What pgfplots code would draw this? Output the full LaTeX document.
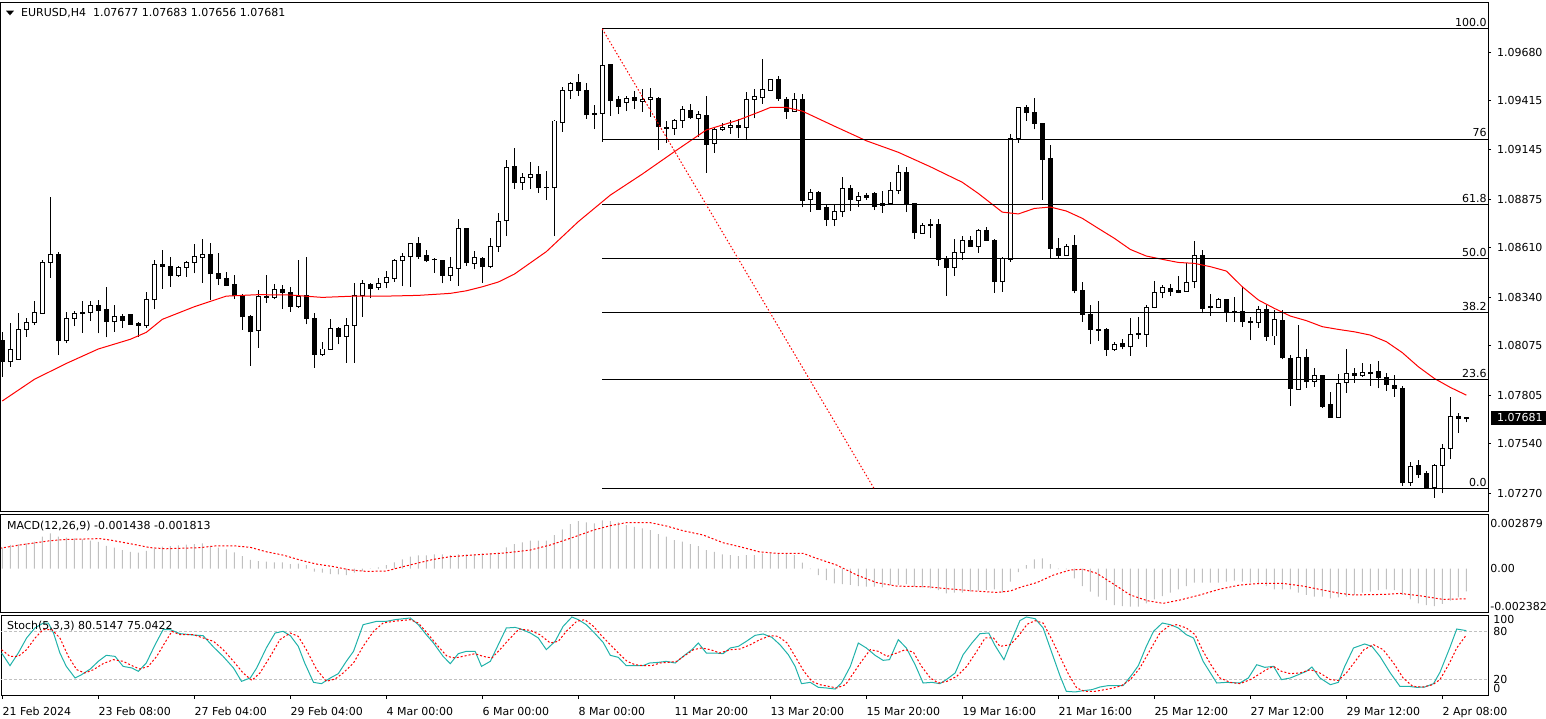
\documentclass[border=0pt]{standalone}
\usepackage{pgfplots}
\pgfplotsset{compat=1.18}
\usepackage{pgfplotstable}
\usepackage{fontspec}
\setmainfont{DejaVu Sans}
\definecolor{stochmain}{HTML}{20B2AA}
\definecolor{histgray}{HTML}{C0C0C0}
\definecolor{mtred}{HTML}{FF0000}

\pgfplotstableread{
x o h l c
0 1.08106 1.08151 1.07906 1.07988
1 1.07988 1.08201 1.07960 1.08055
2 1.08002 1.08252 1.07997 1.08164
3 1.08164 1.08228 1.08124 1.08202
4 1.08202 1.08319 1.08188 1.08257
5 1.08253 1.08543 1.08248 1.08530
6 1.08530 1.08889 1.08447 1.08574
7 1.08576 1.08585 1.08024 1.08102
8 1.08102 1.08261 1.08088 1.08224
9 1.08224 1.08264 1.08182 1.08252
10 1.08257 1.08319 1.08146 1.08250
11 1.08257 1.08319 1.08210 1.08297
12 1.08297 1.08325 1.08142 1.08266
13 1.08275 1.08397 1.08120 1.08206
14 1.08206 1.08297 1.08151 1.08232
15 1.08232 1.08248 1.08173 1.08212
16 1.08248 1.08248 1.08192 1.08192
17 1.08195 1.08204 1.08124 1.08186
18 1.08186 1.08366 1.08173 1.08325
19 1.08325 1.08543 1.08274 1.08519
20 1.08521 1.08598 1.08386 1.08509
21 1.08510 1.08561 1.08397 1.08461
22 1.08461 1.08512 1.08452 1.08503
23 1.08503 1.08539 1.08452 1.08532
24 1.08530 1.08631 1.08470 1.08565
25 1.08558 1.08658 1.08419 1.08576
26 1.08576 1.08634 1.08325 1.08467
27 1.08470 1.08583 1.08406 1.08441
28 1.08445 1.08476 1.08406 1.08406
29 1.08412 1.08461 1.08330 1.08348
30 1.08348 1.08355 1.08161 1.08233
31 1.08237 1.08243 1.07966 1.08151
32 1.08157 1.08379 1.08064 1.08346
33 1.08346 1.08461 1.08310 1.08341
34 1.08339 1.08410 1.08328 1.08383
35 1.08383 1.08406 1.08275 1.08368
36 1.08366 1.08397 1.08261 1.08290
37 1.08290 1.08543 1.08283 1.08346
38 1.08348 1.08560 1.08192 1.08223
39 1.08224 1.08252 1.07955 1.08028
40 1.08028 1.08095 1.08020 1.08057
41 1.08055 1.08221 1.08055 1.08170
42 1.08171 1.08179 1.08082 1.08126
43 1.08126 1.08224 1.07982 1.08188
44 1.08184 1.08416 1.07982 1.08348
45 1.08348 1.08434 1.08233 1.08416
46 1.08410 1.08416 1.08334 1.08386
47 1.08394 1.08443 1.08379 1.08416
48 1.08421 1.08483 1.08388 1.08447
49 1.08443 1.08547 1.08425 1.08538
50 1.08539 1.08583 1.08401 1.08565
51 1.08561 1.08634 1.08397 1.08634
52 1.08634 1.08671 1.08549 1.08561
53 1.08570 1.08598 1.08532 1.08539
54 1.08547 1.08556 1.08474 1.08545
55 1.08543 1.08543 1.08416 1.08461
56 1.08461 1.08561 1.08430 1.08501
57 1.08498 1.08767 1.08403 1.08716
58 1.08716 1.08720 1.08512 1.08529
59 1.08525 1.08592 1.08492 1.08558
60 1.08554 1.08561 1.08419 1.08507
61 1.08507 1.08665 1.08498 1.08616
62 1.08616 1.08798 1.08589 1.08753
63 1.08758 1.09090 1.08674 1.09050
64 1.09057 1.09157 1.08931 1.08966
65 1.08966 1.09017 1.08926 1.08995
66 1.08995 1.09077 1.08931 1.09008
67 1.09008 1.09057 1.08911 1.08938
68 1.08940 1.09030 1.08871 1.08938
69 1.08938 1.09308 1.08674 1.09303
70 1.09294 1.09487 1.09244 1.09472
71 1.09469 1.09518 1.09423 1.09509
72 1.09516 1.09560 1.09439 1.09472
73 1.09472 1.09509 1.09314 1.09336
74 1.09345 1.09390 1.09259 1.09339
75 1.09345 1.09806 1.09190 1.09609
76 1.09614 1.09614 1.09332 1.09414
77 1.09418 1.09439 1.09341 1.09381
78 1.09405 1.09439 1.09357 1.09427
79 1.09432 1.09467 1.09368 1.09414
80 1.09412 1.09478 1.09354 1.09423
81 1.09421 1.09485 1.09326 1.09432
82 1.09427 1.09432 1.09144 1.09272
83 1.09268 1.09303 1.09184 1.09263
84 1.09263 1.09314 1.09226 1.09305
85 1.09305 1.09385 1.09266 1.09367
86 1.09363 1.09396 1.09314 1.09321
87 1.09317 1.09357 1.09213 1.09339
88 1.09334 1.09439 1.09020 1.09175
89 1.09181 1.09263 1.09130 1.09257
90 1.09257 1.09290 1.09250 1.09270
91 1.09268 1.09308 1.09232 1.09279
92 1.09279 1.09312 1.09208 1.09266
93 1.09268 1.09459 1.09199 1.09421
94 1.09421 1.09478 1.09317 1.09436
95 1.09432 1.09640 1.09396 1.09476
96 1.09472 1.09530 1.09472 1.09530
97 1.09532 1.09549 1.09414 1.09425
98 1.09421 1.09432 1.09314 1.09354
99 1.09354 1.09454 1.09354 1.09418
100 1.09418 1.09450 1.08831 1.08871
101 1.08876 1.08931 1.08807 1.08913
102 1.08913 1.08920 1.08822 1.08822
103 1.08831 1.08849 1.08729 1.08767
104 1.08767 1.08849 1.08729 1.08811
105 1.08807 1.08997 1.08780 1.08935
106 1.08935 1.08953 1.08811 1.08876
107 1.08871 1.08913 1.08835 1.08889
108 1.08897 1.08907 1.08871 1.08884
109 1.08907 1.08913 1.08816 1.08835
110 1.08840 1.08922 1.08802 1.08853
111 1.08853 1.08969 1.08853 1.08924
112 1.08922 1.09062 1.08904 1.09022
113 1.09022 1.09053 1.08805 1.08853
114 1.08853 1.08853 1.08658 1.08692
115 1.08689 1.08743 1.08689 1.08733
116 1.08738 1.08767 1.08665 1.08731
117 1.08738 1.08767 1.08512 1.08547
118 1.08552 1.08565 1.08348 1.08501
119 1.08501 1.08658 1.08456 1.08583
120 1.08583 1.08674 1.08543 1.08652
121 1.08652 1.08674 1.08616 1.08616
122 1.08616 1.08713 1.08583 1.08703
123 1.08702 1.08722 1.08649 1.08652
124 1.08652 1.08658 1.08365 1.08425
125 1.08425 1.08561 1.08370 1.08549
126 1.08547 1.09232 1.08534 1.09208
127 1.09208 1.09377 1.09184 1.09377
128 1.09376 1.09390 1.09305 1.09350
129 1.09350 1.09427 1.09257 1.09290
130 1.09290 1.09290 1.08871 1.09093
131 1.09099 1.09172 1.08552 1.08607
132 1.08607 1.08662 1.08552 1.08567
133 1.08567 1.08629 1.08567 1.08616
134 1.08625 1.08678 1.08361 1.08376
135 1.08379 1.08421 1.08206 1.08246
136 1.08248 1.08297 1.08082 1.08164
137 1.08166 1.08319 1.08102 1.08157
138 1.08161 1.08170 1.08019 1.08055
139 1.08055 1.08097 1.08048 1.08079
140 1.08088 1.08110 1.08055 1.08069
141 1.08069 1.08224 1.08020 1.08137
142 1.08139 1.08230 1.08110 1.08137
143 1.08137 1.08297 1.08069 1.08284
144 1.08284 1.08428 1.08279 1.08366
145 1.08366 1.08406 1.08334 1.08394
146 1.08388 1.08412 1.08348 1.08370
147 1.08374 1.08456 1.08361 1.08366
148 1.08370 1.08529 1.08370 1.08421
149 1.08425 1.08647 1.08388 1.08567
150 1.08567 1.08598 1.08252 1.08279
151 1.08288 1.08357 1.08239 1.08284
152 1.08284 1.08334 1.08279 1.08328
153 1.08325 1.08330 1.08206 1.08257
154 1.08264 1.08343 1.08206 1.08257
155 1.08264 1.08397 1.08179 1.08206
156 1.08210 1.08230 1.08106 1.08202
157 1.08202 1.08292 1.08173 1.08275
158 1.08275 1.08297 1.08102 1.08124
159 1.08128 1.08270 1.08079 1.08219
160 1.08215 1.08270 1.08000 1.08009
161 1.08006 1.08024 1.07745 1.07842
162 1.07838 1.08188 1.07833 1.08011
163 1.08011 1.08057 1.07845 1.07878
164 1.07882 1.07951 1.07851 1.07911
165 1.07911 1.07915 1.07736 1.07745
166 1.07751 1.07820 1.07683 1.07683
167 1.07683 1.07920 1.07683 1.07869
168 1.07873 1.08057 1.07818 1.07924
169 1.07924 1.07951 1.07873 1.07911
170 1.07911 1.07982 1.07906 1.07929
171 1.07929 1.07975 1.07856 1.07924
172 1.07936 1.07991 1.07842 1.07900
173 1.07902 1.07924 1.07829 1.07864
174 1.07860 1.07915 1.07796 1.07842
175 1.07842 1.07855 1.07310 1.07326
176 1.07328 1.07437 1.07310 1.07417
177 1.07419 1.07450 1.07354 1.07372
178 1.07377 1.07390 1.07295 1.07295
179 1.07299 1.07428 1.07244 1.07423
180 1.07423 1.07537 1.07268 1.07514
181 1.07514 1.07792 1.07454 1.07687
182 1.07690 1.07705 1.07599 1.07678
183 1.07677 1.07683 1.07656 1.07681
}\candles

\pgfplotstableread{
x y
0 1.07773
4 1.07891
8 1.07978
12 1.08057
16 1.08110
18 1.08148
20 1.08219
24 1.08288
28 1.08346
32 1.08354
36 1.08352
40 1.08339
44 1.08346
48 1.08346
52 1.08350
56 1.08361
58 1.08375
60 1.08397
62 1.08423
64 1.08466
68 1.08589
72 1.08753
76 1.08898
80 1.09013
84 1.09135
88 1.09254
92 1.09308
95 1.09359
96 1.09377
98 1.09377
100 1.09357
104 1.09275
108 1.09195
112 1.09132
116 1.09053
120 1.08968
122 1.08907
125 1.08805
127 1.08795
129 1.08825
131 1.08833
133 1.08811
135 1.08771
137 1.08716
139 1.08662
141 1.08601
143 1.08565
145 1.08547
147 1.08530
149 1.08525
151 1.08507
153 1.08483
155 1.08397
157 1.08325
159 1.08279
161 1.08237
163 1.08212
165 1.08179
167 1.08164
169 1.08151
171 1.08133
173 1.08097
175 1.08037
177 1.07960
179 1.07896
181 1.07847
183 1.07805
}\mavals

\pgfplotstableread{
x y
0 0.00133
1 0.00150
2 0.00154
3 0.00160
4 0.00171
5 0.00202
6 0.00223
7 0.00202
8 0.00196
9 0.00192
10 0.00185
11 0.00177
12 0.00169
13 0.00145
14 0.00133
15 0.00118
16 0.00107
17 0.00101
18 0.00112
19 0.00129
20 0.00139
21 0.00143
22 0.00147
23 0.00152
24 0.00156
25 0.00160
26 0.00145
27 0.00133
28 0.00122
29 0.00103
30 0.00080
31 0.00055
32 0.00048
33 0.00044
34 0.00040
35 0.00040
36 0.00029
37 0.00032
38 0.00023
39 -0.00019
40 -0.00025
41 -0.00034
42 -0.00036
43 -0.00040
44 -0.00025
45 -0.00015
46 0.00002
47 0.00008
48 0.00023
49 0.00040
50 0.00059
51 0.00076
52 0.00084
53 0.00084
54 0.00091
55 0.00091
56 0.00086
57 0.00091
58 0.00091
59 0.00091
60 0.00097
61 0.00097
62 0.00101
63 0.00135
64 0.00156
65 0.00166
66 0.00177
67 0.00177
68 0.00177
69 0.00213
70 0.00249
71 0.00282
72 0.00301
73 0.00293
74 0.00287
75 0.00306
76 0.00301
77 0.00293
78 0.00276
79 0.00265
80 0.00255
81 0.00244
82 0.00219
83 0.00202
84 0.00181
85 0.00171
86 0.00156
87 0.00143
88 0.00118
89 0.00107
90 0.00091
91 0.00086
92 0.00080
93 0.00086
94 0.00086
95 0.00097
96 0.00097
97 0.00097
98 0.00093
99 0.00086
100 0.00038
101 -0.00002
102 -0.00040
103 -0.00072
104 -0.00093
105 -0.00097
106 -0.00103
107 -0.00110
108 -0.00114
109 -0.00114
110 -0.00118
111 -0.00103
112 -0.00103
113 -0.00097
114 -0.00114
115 -0.00118
116 -0.00124
117 -0.00135
118 -0.00156
119 -0.00152
120 -0.00152
121 -0.00145
122 -0.00139
123 -0.00135
124 -0.00131
125 -0.00152
126 -0.00082
127 -0.00021
128 0.00023
129 0.00059
130 0.00065
131 0.00029
132 -0.00002
133 -0.00004
134 -0.00061
135 -0.00110
136 -0.00145
137 -0.00177
138 -0.00198
139 -0.00230
140 -0.00236
141 -0.00240
142 -0.00240
143 -0.00219
144 -0.00194
145 -0.00173
146 -0.00152
147 -0.00131
148 -0.00110
149 -0.00088
150 -0.00088
151 -0.00088
152 -0.00088
153 -0.00082
154 -0.00076
155 -0.00082
156 -0.00088
157 -0.00097
158 -0.00110
159 -0.00131
160 -0.00131
161 -0.00131
162 -0.00152
163 -0.00166
164 -0.00177
165 -0.00177
166 -0.00188
167 -0.00181
168 -0.00177
169 -0.00166
170 -0.00152
171 -0.00145
172 -0.00135
173 -0.00131
174 -0.00135
175 -0.00166
176 -0.00194
177 -0.00219
178 -0.00230
179 -0.00236
180 -0.00223
181 -0.00202
182 -0.00181
183 -0.00144
}\macdhist

\pgfplotstableread{
x y
-0.3 0.00129
2.2 0.00150
6 0.00177
8 0.00185
12.2 0.00190
13.5 0.00181
16.4 0.00154
18.5 0.00133
20.5 0.00126
24.7 0.00133
26.8 0.00145
28.9 0.00145
31 0.00135
33 0.00107
35.1 0.00086
37.2 0.00055
39.3 0.00029
41.4 0.00013
43.5 -0.00008
45.5 -0.00017
48 -0.00015
49.7 0.00008
51.8 0.00034
53.9 0.00059
56 0.00076
60.1 0.00091
62.2 0.00097
64 0.00106
66 0.00118
68.5 0.00150
71 0.00192
73.9 0.00244
76 0.00272
78 0.00291
81 0.00291
83 0.00270
85.1 0.00240
87.6 0.00213
90.1 0.00164
92.5 0.00135
94.6 0.00107
96.8 0.00097
100.1 0.00097
101.8 0.00065
104.3 0.00023
106.8 -0.00040
109.3 -0.00088
111.8 -0.00110
115.6 -0.00114
117.6 -0.00124
121 -0.00139
124.3 -0.00150
126 -0.00141
127.4 -0.00115
129.3 -0.00088
131.4 -0.00040
133.5 -0.00008
135.1 -0.00004
136.8 -0.00029
138.9 -0.00097
141 -0.00166
143.1 -0.00202
145.1 -0.00219
147.2 -0.00198
149.7 -0.00166
152.2 -0.00129
154.7 -0.00103
157.2 -0.00093
160.1 -0.00093
162.6 -0.00110
164.7 -0.00131
167.2 -0.00156
168.9 -0.00166
173 -0.00162
174.7 -0.00156
177.2 -0.00171
180.1 -0.00194
183 -0.00190
}\macdsig

\pgfplotstableread{
x y
-0.08 52.5
0.96 36.7
2.0 52.5
3.04 71.3
4.08 83.8
5.13 90.0
5.75 90.0
6.4 77.5
7.2 52.5
8.0 35.8
9.1 21.3
9.9 25.4
11.0 32.5
12.0 42.1
13.0 49.6
14.1 48.3
15.1 35.8
16.2 33.8
17.0 29.6
18.0 40.0
19.1 62.9
20.1 81.7
21.0 81.7
22.2 76.7
23.9 75.0
25.1 74.2
26.4 60.0
27.6 48.3
28.9 33.8
29.9 17.1
31.0 21.3
31.8 33.8
33.0 58.8
34.1 77.5
35.1 79.6
36.0 74.2
37.0 60.8
37.8 40.0
38.9 15.8
39.9 14.2
41.0 21.3
42.0 26.7
43.0 42.1
43.9 54.6
45.1 87.9
46.8 92.1
48.0 92.1
49.1 94.2
51.0 96.3
52.0 87.9
53.0 75.4
53.9 65.0
55.1 48.3
56.0 39.2
57.0 51.7
58.0 54.6
59.1 54.6
59.9 35.8
61.0 42.1
62.0 62.9
63.0 83.8
64.1 84.5
64.7 82.9
66.0 77.5
67.0 71.3
68.0 56.7
69.1 67.1
70.1 85.8
71.2 97.5
72.0 94.2
73.0 87.9
74.1 76.7
75.1 65.8
76.0 49.6
77.0 47.1
78.0 36.7
79.0 36.7
80.1 36.7
80.9 40.0
82.0 40.8
83.0 42.1
84.1 40.0
85.1 48.3
86.2 56.7
87.0 65.0
88.0 52.5
89.1 52.5
90.1 51.7
91.0 58.8
92.0 60.8
93.0 67.1
94.1 74.6
95.1 76.3
96.2 72.1
97.2 62.9
98.25 50.4
99.1 35.8
99.9 14.2
101.0 15.8
102.0 9.6
103.0 8.8
104.1 7.5
104.9 15.0
106.0 35.8
107.0 65.0
108.0 58.8
109.1 49.6
110.1 43.3
110.9 44.2
112.0 69.2
113.0 58.8
114.1 37.9
115.1 15.0
116.2 15.8
117.2 14.2
118.0 19.2
119.1 27.5
120.1 50.4
121.2 65.0
122.2 76.7
123.3 77.5
124.1 61.7
125.2 44.2
126.2 69.2
127.2 93.0
128.0 97.5
129.1 95.4
130.1 83.8
131.2 52.5
132.2 24.2
133.0 4.6
134.1 3.8
135.1 5.4
136.2 6.7
137.2 10.0
138.2 11.7
139.3 11.7
140.1 11.7
141.2 25.4
142.0 36.7
143.0 60.8
143.9 79.6
145.0 90.0
146.0 87.9
147.0 83.8
148.0 75.4
148.9 71.3
150.1 42.1
151.8 15.0
153.0 15.8
154.7 15.0
155.75 21.3
156.8 37.9
157.8 34.6
158.9 35.8
159.9 19.2
161.0 21.3
162.0 25.4
163.0 29.6
163.7 35.0
164.7 21.3
166.0 12.9
167.0 15.8
167.8 35.8
168.9 58.8
170.3 63.8
171.2 60.8
172.2 48.3
173.5 27.5
174.7 10.8
175.8 10.8
176.8 9.6
177.8 10.0
178.9 14.2
179.7 28.3
181.0 60.8
181.8 82.5
183 80.5
}\stochmain

\pgfplotstableread{
x y
-0.1 56.7
0.96 48.3
2.0 48.3
3.04 56.7
4.1 71.3
5.1 81.7
6.2 81.7
7.2 71.3
8.25 48.3
9.3 31.7
10.3 27.5
11.4 31.7
12.6 39.2
13.9 44.2
15.1 42.1
16.4 35.8
17.2 32.5
18.25 35.8
19.3 48.3
20.3 65.0
21.2 79.6
22.2 75.4
23.9 75.4
25.1 71.3
26.4 67.1
27.6 56.7
28.9 42.1
30.1 27.5
31.2 18.3
32.2 27.5
33.5 48.3
34.7 69.2
36.0 77.5
37.0 73.3
38.0 56.7
39.3 31.7
40.5 17.1
41.6 20.0
42.6 27.5
43.9 40.0
45.1 60.8
46.4 79.6
47.6 90.0
48.9 92.1
51.0 94.2
52.0 90.0
53.1 77.5
54.3 62.9
55.6 48.3
56.6 46.3
58.0 49.2
59.1 51.7
60.1 48.3
61.2 46.3
62.2 56.7
63.3 69.2
64.6 82.5
66.0 80.8
67.2 75.4
68.5 65.0
69.5 67.1
70.5 79.6
71.8 92.1
72.8 94.2
73.9 85.8
74.9 74.2
76.0 62.9
77.0 52.5
78.1 42.1
79.1 37.9
80.1 36.7
81.2 36.7
82.2 40.0
83.25 40.8
84.3 42.1
85.3 49.2
86.4 56.7
87.4 58.8
88.5 56.7
89.7 52.5
91.0 56.7
92.2 57.5
93.5 62.9
94.7 69.2
96.0 74.2
97.0 73.3
98.1 65.0
99.1 48.3
100.2 29.6
101.2 17.1
102.2 12.9
103.3 10.8
104.3 8.8
105.4 12.9
106.4 27.5
107.4 42.1
108.5 56.7
109.5 54.6
110.6 48.3
111.8 52.5
112.9 56.7
113.9 53.3
114.9 35.8
116.0 21.3
117.0 15.0
118.1 17.1
119.3 23.3
120.55 35.8
121.8 54.6
122.85 71.3
123.9 71.3
124.7 60.8
126.0 62.9
127.1 74.8
128.1 88.5
129.1 92.9
130.1 90.0
131.2 69.2
132.2 48.3
133.3 25.4
134.3 8.8
135.3 4.6
136.6 4.6
137.8 6.7
138.9 8.8
139.9 11.7
141.0 19.2
142.2 33.8
143.5 56.7
144.7 77.5
145.75 85.8
146.8 87.9
148.0 83.8
149.1 75.4
150.1 54.6
151.2 35.8
152.2 21.3
153.5 15.8
154.7 14.2
156.0 19.2
157.0 25.4
158.0 31.7
158.9 35.8
159.9 29.6
161.0 26.7
162.2 27.5
163.5 31.7
164.7 27.5
166.0 19.2
167.0 18.3
168.0 27.5
169.1 42.1
170.2 56.7
171.4 62.9
172.6 56.7
173.9 40.0
175.1 21.3
176.3 10.8
177.6 10.0
178.8 12.9
179.7 19.2
180.9 40.0
181.8 58.8
183.0 75.0
}\stochsig

\begin{document}
\begin{tikzpicture}[font=\fontsize{5.5pt}{6.6pt}\selectfont]
\useasboundingbox (0,0) rectangle (773pt,-359pt);
\pgfplotsset{
  mtpanel/.style={
    scale only axis, width=743.5pt,
    xmin=-0.1625, xmax=185.71,
    axis line style={line width=0.5pt, black},
    tick style={line width=0.5pt, black},
    tick align=outside,
    xtick=\empty,
    ytick pos=right, yticklabel pos=right,
    scaled y ticks=false, scaled x ticks=false,
    yticklabel style={anchor=west, inner sep=0pt, font=\fontsize{5.5pt}{6.6pt}\selectfont},
    xticklabel style={font=\fontsize{5.5pt}{6.6pt}\selectfont},
  },
  bodyplot/.style={draw=none, mark=none, forget plot,
    error bars/y dir=plus, error bars/y explicit, error bars/error mark=none},
}
% ---------------- main price panel ----------------
\begin{axis}[mtpanel, at={(0.5pt,-1pt)}, anchor=north west, height=254.5pt,
  ymin=1.071716, ymax=1.099533,
  major tick length=1.5pt,
  ytick={1.0968,1.09415,1.09145,1.08875,1.0861,1.0834,1.08075,1.07805,1.0754,1.0727},
  yticklabels={1.09680,1.09415,1.09145,1.08875,1.08610,1.08340,1.08075,1.07805,1.07540,1.07270},
  yticklabel style={xshift=2.8pt}]
% wicks
\addplot[bodyplot, error bars/error bar style={draw=black, line width=0.5pt}]
  table[x=x, y=l, y error expr=\thisrow{h}-\thisrow{l}] {\candles};
% black body / outline
\addplot[bodyplot, error bars/error bar style={draw=black, line width=2.5pt}]
  table[x=x, y expr={min(\thisrow{o},\thisrow{c})-0.000027},
        y error expr={abs(\thisrow{c}-\thisrow{o})+0.000054}] {\candles};
% white interior of bullish candles
\addplot[bodyplot, error bars/error bar style={draw=white, line width=1.5pt}]
  table[x=x, y expr={min(\thisrow{o},\thisrow{c})+0.000027},
        y error expr={(\thisrow{c}>\thisrow{o})*max(\thisrow{c}-\thisrow{o}-0.000054,0)}] {\candles};
% moving average
\addplot[mtred, line width=0.5pt, mark=none] table {\mavals};
% Fibonacci levels
\addplot[black, line width=0.5pt, mark=none] coordinates {(75,1.09806) (186,1.09806)};
\addplot[black, line width=0.5pt, mark=none] coordinates {(75,1.09203) (186,1.09203)};
\addplot[black, line width=0.5pt, mark=none] coordinates {(75,1.08847) (186,1.08847)};
\addplot[black, line width=0.5pt, mark=none] coordinates {(75,1.08551) (186,1.08551)};
\addplot[black, line width=0.5pt, mark=none] coordinates {(75,1.08254) (186,1.08254)};
\addplot[black, line width=0.5pt, mark=none] coordinates {(75,1.07888) (186,1.07888)};
\addplot[black, line width=0.5pt, mark=none] coordinates {(75,1.07295) (186,1.07295)};
\addplot[mtred, line width=0.5pt, dash pattern=on 0.75pt off 1pt, mark=none]
  coordinates {(75,1.09806) (108.96,1.07295)};
\node[anchor=base east, inner sep=0pt] at (axis cs:185.6,1.09806) [yshift=1.4pt] {100.0};
\node[anchor=base east, inner sep=0pt] at (axis cs:185.6,1.09203) [yshift=1.2pt] {76};
\node[anchor=base east, inner sep=0pt] at (axis cs:185.6,1.08847) [yshift=1.2pt] {61.8};
\node[anchor=base east, inner sep=0pt] at (axis cs:185.6,1.08551) [yshift=1.2pt] {50.0};
\node[anchor=base east, inner sep=0pt] at (axis cs:185.6,1.08254) [yshift=1.2pt] {38.2};
\node[anchor=base east, inner sep=0pt] at (axis cs:185.6,1.07888) [yshift=1.2pt] {23.6};
\node[anchor=base east, inner sep=0pt] at (axis cs:185.6,1.07295) [yshift=1.2pt] {0.0};
\coordinate (pricepos) at (axis cs:185.71,1.07681);
\end{axis}
% ---------------- MACD panel ----------------
\begin{axis}[mtpanel, at={(0.5pt,-257pt)}, anchor=north west, height=49pt,
  ymin=-0.002737, ymax=0.003457, major tick length=0pt,
  ytick={0.002879,0,-0.002382}, yticklabels={0.002879,0.00,-0.002382},
  yticklabel style={xshift=1pt}]
\addplot[ybar, bar width=0.5pt, bar shift=0pt, fill=histgray, draw=none] table {\macdhist};
\addplot[mtred, line width=0.5pt, dash pattern=on 1pt off 1pt, mark=none] table {\macdsig};
\end{axis}
% ---------------- Stochastic panel ----------------
\begin{axis}[mtpanel, at={(0.5pt,-307.5pt)}, anchor=north west, height=40pt,
  ymin=0, ymax=100, major tick length=2pt,
  ytick={95,80,20,8}, yticklabels={100,80,20,0}, ytick style={draw=none},
  yticklabel style={xshift=0.5pt},
  xtick={0,12,...,180}, xtick pos=bottom,
  xticklabels={21 Feb 2024,23 Feb 08:00,27 Feb 04:00,29 Feb 04:00,4 Mar 00:00,6 Mar 00:00,8 Mar 00:00,11 Mar 20:00,13 Mar 20:00,15 Mar 20:00,19 Mar 16:00,21 Mar 16:00,25 Mar 12:00,27 Mar 12:00,29 Mar 12:00,2 Apr 08:00},
  xticklabel style={anchor=base west, inner sep=0pt, yshift=-8pt}]
\addplot[histgray, line width=0.5pt, dash pattern=on 1.5pt off 1pt, mark=none] coordinates {(-1,80) (190,80)};
\addplot[histgray, line width=0.5pt, dash pattern=on 1.5pt off 1pt, mark=none] coordinates {(-1,20) (190,20)};
\addplot[stochmain, line width=0.5pt, mark=none] table {\stochmain};
\addplot[mtred, line width=0.5pt, dash pattern=on 1pt off 1pt, mark=none] table {\stochsig};
\end{axis}
% ---------------- texts ----------------
\fill[black] (3pt,-5.35pt) -- (7pt,-5.35pt) -- (5pt,-7.65pt) -- cycle;
\node[anchor=base west, inner sep=0pt] at (10.35pt,-8.35pt) {EURUSD,H4\ \ 1.07677 1.07683 1.07656 1.07681};
\node[anchor=base west, inner sep=0pt] at (3.35pt,-264.6pt) {MACD(12,26,9) -0.001438 -0.001813};
\node[anchor=base west, inner sep=0pt] at (3.35pt,-314.8pt) {Stoch(5,3,3) 80.5147 75.0422};
\node[fill=black, text=white, anchor=west, inner xsep=2.85pt, inner ysep=1.3pt] at (pricepos) [xshift=1.5pt] {1.07681};
\end{tikzpicture}
\end{document}
